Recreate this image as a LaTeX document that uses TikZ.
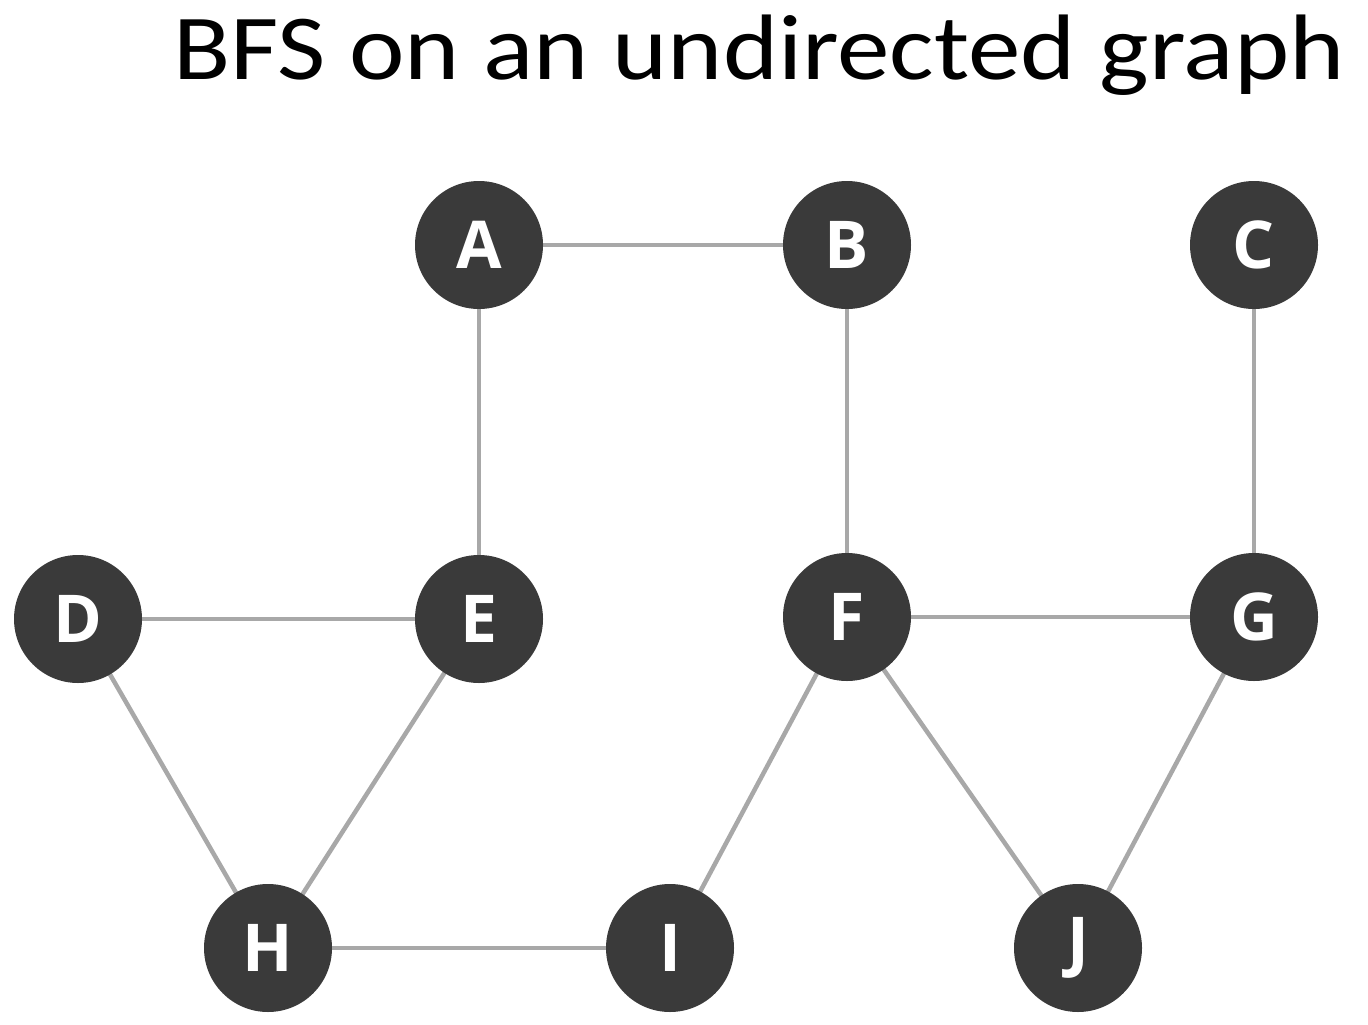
\documentclass[tikz,border=0pt]{standalone}
\usepackage{fontspec}
\setmainfont{Carlito}
\newfontfamily\titlefont[FakeStretch=1.13]{Carlito}
\newfontfamily\nodefont{Open Sans}
\usetikzlibrary{backgrounds}
\definecolor{nodefill}{HTML}{3A3A3A}
\definecolor{edgecol}{HTML}{A8A8A8}
\begin{document}
\begin{tikzpicture}[x=1pt,y=-1pt,
  vertex/.style={circle,fill=nodefill,draw=none,minimum size=128pt,inner sep=0pt,
    text=white,font=\nodefont\bfseries\fontsize{66}{66}\selectfont},
  edge/.style={draw=edgecol,line width=4.5pt}]
\useasboundingbox (0,0) rectangle (1368,1025);
\node[anchor=base,font=\titlefont\fontsize{93}{93}\selectfont] (title) at (759,80) {BFS on an undirected graph};
\node[vertex] (A) at (479,245) {A};
\node[vertex] (B) at (847,245) {B};
\node[vertex] (C) at (1254,245) {C};
\node[vertex] (D) at (78,619) {D};
\node[vertex] (E) at (479,619) {E};
\node[vertex] (F) at (847,617) {F};
\node[vertex] (G) at (1254,617) {G};
\node[vertex] (H) at (268,948) {H};
\node[vertex] (I) at (670,948) {I};
\node[vertex] (J) at (1078,948) {J};
\begin{scope}[on background layer]
\draw[edge] (A.center) -- (B.center);
\draw[edge] (A.center) -- (E.center);
\draw[edge] (B.center) -- (F.center);
\draw[edge] (C.center) -- (G.center);
\draw[edge] (D.center) -- (E.center);
\draw[edge] (D.center) -- (H.center);
\draw[edge] (E.center) -- (H.center);
\draw[edge] (F.center) -- (G.center);
\draw[edge] (F.center) -- (I.center);
\draw[edge] (F.center) -- (J.center);
\draw[edge] (G.center) -- (J.center);
\draw[edge] (H.center) -- (I.center);
\end{scope}
\end{tikzpicture}
\end{document}
